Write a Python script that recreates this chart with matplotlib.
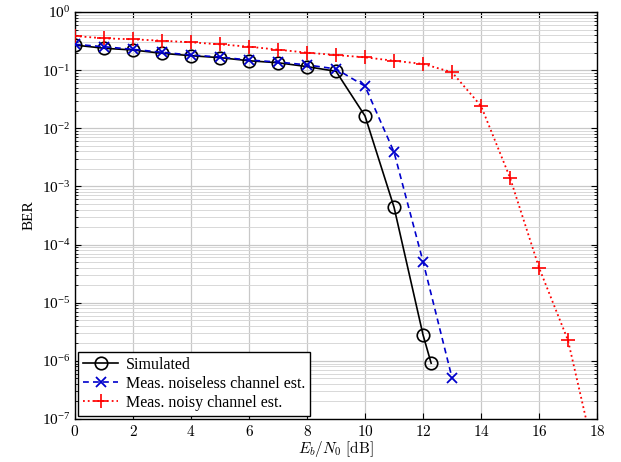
import numpy as np
import matplotlib
matplotlib.use("Agg")
from matplotlib import pyplot as plt
from matplotlib.ticker import LogLocator, FuncFormatter, NullFormatter

plt.rcParams['font.family'] = ['Liberation Serif', 'DejaVu Serif']
plt.rcParams['mathtext.fontset'] = 'cm'

# Simulated
sim_x = [0, 1, 2, 3, 4, 5, 6, 7, 8, 9, 10, 11, 12, 12.28]
sim_ber = [0.27, 0.238, 0.222, 0.195, 0.177, 0.164, 0.145, 0.134, 0.115, 0.0955,
           0.0163, 4.4e-4, 2.8e-6, 9.1e-7]

# Measured, noiseless channel estimate
nl_x = [0, 1, 2, 3, 4, 5, 6, 7, 8, 9, 10, 11, 12, 13]
nl_ber = [0.278, 0.253, 0.228, 0.203, 0.182, 0.168, 0.149, 0.138, 0.123, 0.105,
          0.053, 3.9e-3, 5.1e-5, 5.1e-7]

# Measured, noisy channel estimate
ny_x = [0, 1, 2, 3, 4, 5, 6, 7, 8, 9, 10, 11, 12, 13, 14, 15, 16, 17, 18]
ny_ber = [0.386, 0.353, 0.339, 0.321, 0.301, 0.278, 0.253, 0.225, 0.2, 0.182,
          0.166, 0.145, 0.128, 0.092, 0.0242, 1.41e-3, 4.0e-5, 2.24e-6, 1.5e-8]

fig = plt.figure(figsize=(6.21, 4.62), dpi=100)
ax = fig.add_axes([0.1208, 0.0931, 0.8406, 0.8809])

ax.semilogy(sim_x, sim_ber, '-', color='black', lw=1.2, marker='o', ms=9,
            mfc='none', mew=1.2, label='Simulated', zorder=3)
ax.semilogy(nl_x, nl_ber, '--', color='#0000cc', lw=1.2, marker='x', ms=7,
            mew=1.3, dashes=(3.5, 2.5), label='Meas. noiseless channel est.', zorder=3)
ax.semilogy(ny_x, ny_ber, ':', color='red', lw=1.3, marker='+', ms=10,
            mew=1.2, label='Meas. noisy channel est.', zorder=3)

ax.set_xlim(0, 18)
ax.set_ylim(1e-7, 1)
ax.set_xticks(np.arange(0, 19, 2))
ax.xaxis.set_major_formatter(FuncFormatter(lambda v, p: r'$%d$' % v))
ax.yaxis.set_major_locator(LogLocator(base=10, numticks=20))
ax.yaxis.set_minor_locator(LogLocator(base=10, subs=np.arange(2, 10), numticks=20))
ax.yaxis.set_minor_formatter(NullFormatter())

ax.grid(True, which='major', color='#c8c8c8', lw=0.9)
ax.grid(True, which='minor', axis='y', color='#d8d8d8', lw=0.7)
ax.set_axisbelow(True)

ax.tick_params(which='both', direction='in', top=True, right=True, labelsize=11)
ax.tick_params(which='major', length=4)
ax.tick_params(which='minor', length=2)
for s in ax.spines.values():
    s.set_linewidth(1.0)

ax.set_xlabel(r'$E_b/N_0\ \mathrm{[dB]}$', fontsize=11, labelpad=0)
ax.set_ylabel('BER', fontsize=11, labelpad=4)

leg = ax.legend(loc='lower left', fontsize=11.5, fancybox=False, framealpha=1,
                edgecolor='black', borderaxespad=0.2, handlelength=2.2,
                handletextpad=0.5, borderpad=0.3, labelspacing=0.2)
leg.get_frame().set_linewidth(1.0)

fig.savefig('out.png', dpi=100)
